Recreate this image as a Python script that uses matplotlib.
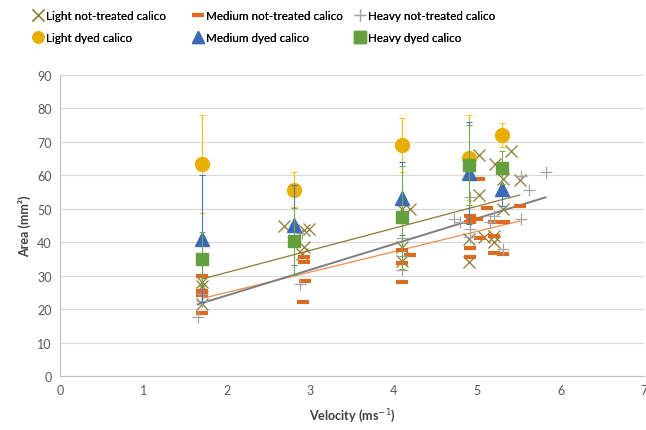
import numpy as np
import matplotlib
matplotlib.use("Agg")
import matplotlib.pyplot as plt
from matplotlib.lines import Line2D

plt.rcParams['font.family'] = ['Lato', 'DejaVu Sans']

# not-treated calico: velocity (m/s) and area (mm2) of each sample
light_nt_v = [1.7, 1.7, 1.7, 2.68, 2.93, 2.98, 2.92, 2.9, 4.1, 4.2, 4.1, 4.1,
              4.9, 4.9, 5.02, 5.02, 5.08, 5.21, 5.2, 5.2, 5.31, 5.31, 5.41, 5.51]
light_nt_a = [28, 27, 21.5, 44.7, 43.6, 44, 38.5, 36.5, 50, 50, 38.5, 34.5,
              41, 34, 66, 54, 41.5, 63.4, 40, 42, 59, 50, 67.3, 58.7]

medium_nt_v = [1.7, 1.7, 1.7, 1.7, 2.93, 2.93, 2.94, 2.91, 4.1, 4.2, 4.1, 4.1,
               4.91, 4.91, 4.94, 4.91, 4.91, 5.02, 5.0, 5.03, 5.12,
               5.2, 5.32, 5.2, 5.2, 5.31, 5.51]
medium_nt_a = [29.8, 25.5, 24.2, 18.8, 35.5, 34, 28.5, 22, 37.8, 36.3, 33.8, 28,
               47.9, 46, 47, 38.2, 35.5, 59, 47, 41.2, 50.2,
               46, 46, 42, 36.8, 36.5, 50.9]

heavy_nt_v = [1.65, 1.7, 1.7, 2.9, 2.88, 4.1, 4.1, 4.1, 4.72, 4.8, 4.91, 4.91, 4.91,
              5.15, 5.2, 5.31, 5.52, 5.52, 5.62, 5.82]
heavy_nt_a = [17.6, 22.5, 24.5, 42.9, 27.5, 41.4, 36, 31.7, 46.9, 46, 44, 53.4, 41.5,
              46.1, 47.9, 38, 46.9, 59.9, 55.6, 60.9]

# dyed calico: mean area with error
dyed_v = [1.7, 2.8, 4.1, 4.9, 5.3]
light_d_a = [63.4, 55.7, 69.1, 65.3, 72.0]
light_d_err = [14.7, 5.2, 8.0, 12.8, 3.5]
medium_d_a = [41.0, 45.1, 53.1, 60.7, 55.9]
medium_d_err = [19.0, 12.0, 11.0, 15.3, 5.0]
heavy_d_a = [35.0, 40.3, 47.4, 63.0, 62.3]
heavy_d_err = [8.0, 10.0, 15.5, 12.0, 5.0]

labels = ['Light not-treated calico', 'Medium not-treated calico', 'Heavy not-treated calico',
          'Light dyed calico', 'Medium dyed calico', 'Heavy dyed calico']

c_light_nt = '#8C7A30'
c_medium_nt = '#DC6B22'
c_heavy_nt = '#A5A5A5'
c_light_d = '#E8AE00'
c_medium_d = '#3F69B4'
c_heavy_d = '#64A03E'

fig = plt.figure(figsize=(6.46, 4.31), dpi=100)
ax = fig.add_axes([0.0929, 0.1253, 0.904, 0.6984])

# trendlines (linear fit over each series' range)
def trend(v, a, color, lw):
    v = np.asarray(v)
    k, b = np.polyfit(v, a, 1)
    xs = np.array([v.min(), v.max()])
    ax.plot(xs, k * xs + b, color=color, lw=lw, zorder=2)

trend(light_nt_v, light_nt_a, '#8C7A30', 0.9)
trend(medium_nt_v, medium_nt_a, '#F08C50', 0.9)
trend(heavy_nt_v, heavy_nt_a, '#7F7F7F', 1.4)

ax.plot(light_nt_v, light_nt_a, 'x', color=c_light_nt, ms=8, mew=0.9, zorder=3)
ax.plot(medium_nt_v, medium_nt_a, '_', color=c_medium_nt, ms=9, mew=3, zorder=3)
ax.plot(heavy_nt_v, heavy_nt_a, '+', color=c_heavy_nt, ms=9, mew=0.9, zorder=3)

ax.errorbar(dyed_v, light_d_a, yerr=light_d_err, fmt='o', color=c_light_d, ms=10,
            ecolor='#FFC000', elinewidth=0.75, capsize=2.5, capthick=0.75, zorder=4)
ax.errorbar(dyed_v, medium_d_a, yerr=medium_d_err, fmt='^', color=c_medium_d, ms=10,
            ecolor='#4472C4', elinewidth=0.75, capsize=2.5, capthick=0.75, zorder=5)
ax.errorbar(dyed_v, heavy_d_a, yerr=heavy_d_err, fmt='s', color=c_heavy_d, ms=9,
            ecolor='#70AD47', elinewidth=0.75, capsize=2.5, capthick=0.75, zorder=6)

ax.set_xlim(0, 7)
ax.set_ylim(0, 90)
ax.set_xticks(range(0, 8))
ax.set_yticks(range(0, 91, 10))
ax.grid(axis='y', color='#D9D9D9', lw=0.8)
ax.set_axisbelow(True)
for s in ['top', 'right']:
    ax.spines[s].set_visible(False)
for s in ['left', 'bottom']:
    ax.spines[s].set_color('#BFBFBF')
ax.tick_params(length=0, labelsize=9, colors='#595959', pad=6)
ax.set_xlabel('Velocity (ms$^{-1}$)', fontsize=9, fontweight='bold', color='#404040',
              labelpad=7)
ax.set_ylabel('Area (mm²)', fontsize=9, fontweight='bold', color='#404040')

# pick a legend font size so the longest label fits its column width
renderer = fig.canvas.get_renderer()
probe = fig.text(0, 0, labels[1], fontsize=10)
w10 = probe.get_window_extent(renderer).width
probe.remove()
leg_fs = min(10.0, 10.0 * 136 / w10)

# legend: three columns, light / medium / heavy
handles = [
    Line2D([], [], ls='', marker='x', color=c_light_nt, ms=8, mew=0.9),
    Line2D([], [], ls='', marker='_', color=c_medium_nt, ms=8, mew=3),
    Line2D([], [], ls='', marker='+', color=c_heavy_nt, ms=9, mew=0.9),
    Line2D([], [], ls='', marker='o', color=c_light_d, ms=8),
    Line2D([], [], ls='', marker='^', color=c_medium_d, ms=8),
    Line2D([], [], ls='', marker='s', color=c_heavy_d, ms=8),
]
text_start = [46, 206, 368]
offset = 1.05 * leg_fs * 100 / 72
for i, tx in enumerate(text_start):
    leg = fig.legend([handles[i], handles[i + 3]], [labels[i], labels[i + 3]],
                     loc='upper left', bbox_to_anchor=((tx - offset) / 646, 0.974),
                     borderpad=0, borderaxespad=0, frameon=False, fontsize=leg_fs,
                     handlelength=0.8, handletextpad=0.25, labelspacing=0.95)
    fig.add_artist(leg)

fig.savefig('out.png', dpi=100)
